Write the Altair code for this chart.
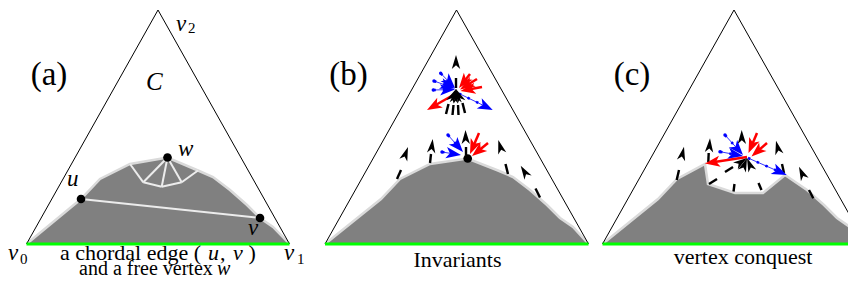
import math
import altair as alt
import pandas as pd

# ---------------- data (pixel coordinates) ----------------
panels = ["a", "b", "c"]
tri_left_x = [26.5, 325.0, 602.5]
tri_apex_x = [158.0, 456.5, 734.0]
tri_right_x = [289.5, 588.5, 866.0]
tri_base_y = 244.0
tri_apex_y = 10.0

surf_a_x = [26.5, 81, 100, 130, 167.5, 198, 213, 230, 247, 260, 273, 289.5]
surf_a_y = [244, 199, 179, 164, 157.5, 170.5, 177, 190, 205, 218, 227, 244]
surf_b_x = [325, 381, 400, 430, 467.5, 498, 513, 530, 547, 560, 573, 588.5]
surf_b_y = [244, 199, 179, 164, 158.5, 170.5, 177, 190, 205, 218, 227, 244]
surf_c_x = [602.5, 658, 677, 705, 708, 735, 763, 785, 807, 824, 837, 850, 866]
surf_c_y = [244, 199, 179, 164, 184, 193, 193, 175, 190, 205, 218, 227, 244]

# white chords / fan inside panel (a)
chord_x1 = [81, 167.5, 167.5, 167.5, 130, 143.3, 161.7, 181.7]
chord_y1 = [199, 157.5, 157.5, 157.5, 164, 182.3, 186.7, 182.3]
chord_x2 = [260, 143.3, 161.7, 181.7, 143.3, 161.7, 181.7, 198]
chord_y2 = [218, 182.3, 186.7, 182.3, 182.3, 186.7, 182.3, 170.5]

dot_x = [81, 260, 167.5, 467.7]
dot_y = [199, 218, 157.5, 158.5]

# black arrows: heads (tip, and a point behind giving the direction)
black_tip_x = [408, 432.7, 465.5, 498.3, 520.7, 456, 456, 456, 456, 456,
               684, 710, 741.7, 776, 799, 747, 747, 747]
black_tip_y = [147, 139, 130, 140, 165.7, 55, 89, 89, 89, 89,
               146.7, 138.3, 130, 140.7, 166.7, 158, 158, 158]
black_from_x = [397, 430, 466, 508, 540, 456, 445, 452, 459, 466,
                676.7, 708.3, 742, 784, 813.3, 709, 734, 760]
black_from_y = [178, 163, 155, 173, 197, 88, 113, 114, 114, 112,
                180, 162, 155, 173, 198.3, 184, 192, 190]
# black dash segments
dash_x1 = [397, 430, 466, 508, 540, 456, 446, 452.5, 458.5, 465,
           676.7, 708.3, 784, 813.3, 709, 725, 733.5, 761.5]
dash_y1 = [179, 163, 155, 174, 197.5, 88, 114, 115, 115, 113,
           180, 162, 173, 198.3, 184, 172, 191.5, 190]
dash_x2 = [401, 431, 466, 505.5, 535.5, 456, 448.5, 453.5, 458, 462.5,
           679, 708.7, 782, 809, 717, 733, 734.5, 758.5]
dash_y2 = [170, 154, 147, 164, 188.5, 78, 104, 105, 105, 103,
           170, 153, 164, 190, 179, 167, 184, 183]

# red arrows (start -> tip)
red_x1 = [470, 477, 482, 455, 479, 488, 757, 767, 747]
red_y1 = [74, 79, 87, 94, 133, 143, 133, 143, 157]
red_x2 = [459, 460, 460.5, 427, 470, 472, 748.5, 751.5, 705]
red_y2 = [88, 89.5, 91, 110, 154, 156, 153, 156.5, 163.5]

# blue arrows (start -> tip)
blue_x1 = [440.7, 434, 433.3, 459, 448, 442, 725, 720, 748]
blue_y1 = [73.3, 81, 90, 93.5, 135, 152, 135, 151.7, 158]
blue_x2 = [455, 455, 455, 492.7, 463, 461, 743, 743, 786.7]
blue_y2 = [88, 88.5, 89.5, 110, 152, 155, 155, 156, 175]
blue_start_dot = [True, True, True, False, True, True, True, True, False]

# texts
center_text = ["(a)", "(b)", "(c)", "Invariants", "vertex conquest"]
center_x = [49, 348.5, 632, 457.5, 743]
center_y = [85, 85, 85, 267, 264]
center_size = [33, 33, 33, 22, 22]

left_text = ["a chordal edge (", ",", ")", "and a free vertex", "2", "0", "1"]
left_x = [60, 220, 248.5, 79, 188, 20, 297]
left_y = [260, 260, 260, 275, 33, 264, 264]
left_size = [22, 22, 22, 20, 15, 15, 15]

ital_text = ["C", "v", "u", "w", "v", "v", "v", "u", "v", "w"]
ital_x = [146, 176, 67, 178, 248, 8, 284, 208, 233, 217]
ital_y = [90, 31, 186, 156, 235, 260, 260, 260, 260, 275]
ital_size = [25, 23, 23, 23, 23, 23, 23, 22, 22, 20]

# ---------------- tables ----------------
xs = alt.Scale(domain=[8, 848], nice=False, zero=False)
ys = alt.Scale(domain=[278, 8], nice=False, zero=False)
X = lambda f: alt.X(f, type="quantitative", scale=xs, axis=None)
Y = lambda f: alt.Y(f, type="quantitative", scale=ys, axis=None)

surf_rows = []
for p, sx, sy in zip(panels, [surf_a_x, surf_b_x, surf_c_x], [surf_a_y, surf_b_y, surf_c_y]):
    for i, (a, b) in enumerate(zip(sx, sy)):
        surf_rows.append({"panel": p, "i": i, "x": a, "y": b, "base": tri_base_y})
surf = pd.DataFrame(surf_rows)

tri_rows = []
for p, l, a, r in zip(panels, tri_left_x, tri_apex_x, tri_right_x):
    tri_rows += [{"panel": p, "i": 0, "x": l, "y": tri_base_y},
                 {"panel": p, "i": 1, "x": a, "y": tri_apex_y},
                 {"panel": p, "i": 2, "x": r, "y": tri_base_y}]
tri = pd.DataFrame(tri_rows)
base = pd.DataFrame({"x": tri_left_x, "x2": tri_right_x, "y": [tri_base_y] * 3})

chords = pd.DataFrame({"x": chord_x1, "y": chord_y1, "x2": chord_x2, "y2": chord_y2})
dots = pd.DataFrame({"x": dot_x, "y": dot_y})
dashes = pd.DataFrame({"x": dash_x1, "y": dash_y1, "x2": dash_x2, "y2": dash_y2})


def heads(tx, ty, fx, fy, L):
    rows = []
    for a, b, c, d in zip(tx, ty, fx, fy):
        dx, dy = a - c, b - d
        n = math.hypot(dx, dy)
        ux, uy = dx / n, dy / n
        ang = math.degrees(math.atan2(ux, -uy)) % 360
        rows.append({"x": a - ux * L / 2, "y": b - uy * L / 2, "ang": ang})
    return pd.DataFrame(rows)


def shafts(x1, y1, x2, y2, back):
    rows = []
    for a, b, c, d in zip(x1, y1, x2, y2):
        dx, dy = c - a, d - b
        n = math.hypot(dx, dy)
        rows.append({"x": a, "y": b, "x2": c - dx / n * back, "y2": d - dy / n * back})
    return pd.DataFrame(rows)


LB, LR, LU = 14, 15, 15
black_heads = heads(black_tip_x, black_tip_y, black_from_x, black_from_y, LB)
red_heads = heads(red_x2, red_y2, red_x1, red_y1, LR)
blue_heads = heads(blue_x2, blue_y2, blue_x1, blue_y1, LU)
red_sh = shafts(red_x1, red_y1, red_x2, red_y2, 8)
blue_sh = shafts(blue_x1, blue_y1, blue_x2, blue_y2, 8)
blue_dots = pd.DataFrame({"x": [v for v, k in zip(blue_x1, blue_start_dot) if k],
                          "y": [v for v, k in zip(blue_y1, blue_start_dot) if k]})

ctext = pd.DataFrame({"t": center_text, "x": center_x, "y": center_y, "s": center_size})
ltext = pd.DataFrame({"t": left_text, "x": left_x, "y": left_y, "s": left_size})
itext = pd.DataFrame({"t": ital_text, "x": ital_x, "y": ital_y, "s": ital_size})

HEAD = "M0,-1 L0.6,1 L0,0.45 L-0.6,1 Z"
HEAD_W = "M0,-1 L0.75,1 L0,0.5 L-0.75,1 Z"
FONT = "Liberation Serif"

# ---------------- layers ----------------
area = alt.Chart(surf).mark_area(color="#808080", opacity=1, interpolate="linear").encode(
    x=X("x"), y=Y("y"), y2="base:Q", detail="panel:N")
outline = alt.Chart(surf).mark_line(color="#dadada", strokeWidth=2.5).encode(
    x=X("x"), y=Y("y"), detail="panel:N", order="i:Q")
tri_l = alt.Chart(tri).mark_line(color="black", strokeWidth=1).encode(
    x=X("x"), y=Y("y"), detail="panel:N", order="i:Q")
green = alt.Chart(base).mark_rule(color="#00ff00", strokeWidth=3).encode(
    x=X("x"), x2="x2:Q", y=Y("y"))
chord_l = alt.Chart(chords).mark_rule(color="#ececec", strokeWidth=2).encode(
    x=X("x"), y=Y("y"), x2="x2:Q", y2="y2:Q")
dash_l = alt.Chart(dashes).mark_rule(color="black", strokeWidth=2.4, strokeCap="butt").encode(
    x=X("x"), y=Y("y"), x2="x2:Q", y2="y2:Q")
red_l = alt.Chart(red_sh).mark_rule(color="#ff0000", strokeWidth=2.5).encode(
    x=X("x"), y=Y("y"), x2="x2:Q", y2="y2:Q")
blue_thin = alt.Chart(blue_sh).mark_rule(color="#0000ff", strokeWidth=0.8).encode(
    x=X("x"), y=Y("y"), x2="x2:Q", y2="y2:Q")
blue_dot_l = alt.Chart(blue_sh).mark_rule(color="#0000ff", strokeWidth=2.5, strokeDash=[2.5, 7]).encode(
    x=X("x"), y=Y("y"), x2="x2:Q", y2="y2:Q")
blue_start = alt.Chart(blue_dots).mark_circle(color="#0000ff", size=12, opacity=1).encode(
    x=X("x"), y=Y("y"))

def head_layer(df, color, shape, L):
    return alt.Chart(df).mark_point(shape=shape, filled=True, color=color, opacity=1,
                                    size=L * L, strokeWidth=0).encode(
        x=X("x"), y=Y("y"), angle=alt.Angle("ang:Q", scale=None))

bh = head_layer(black_heads, "black", HEAD, LB)
rh = head_layer(red_heads, "#ff0000", HEAD_W, LR)
uh = head_layer(blue_heads, "#0000ff", HEAD_W, LU)

dot_l = alt.Chart(dots).mark_circle(color="black", size=75, opacity=1).encode(x=X("x"), y=Y("y"))

ct = alt.Chart(ctext).mark_text(font=FONT, align="center", baseline="alphabetic", color="black").encode(
    x=X("x"), y=Y("y"), text="t:N", size=alt.Size("s:Q", scale=None))
lt = alt.Chart(ltext).mark_text(font=FONT, align="left", baseline="alphabetic", color="black").encode(
    x=X("x"), y=Y("y"), text="t:N", size=alt.Size("s:Q", scale=None))
it = alt.Chart(itext).mark_text(font=FONT, fontStyle="italic", align="left", baseline="alphabetic",
                                color="black").encode(
    x=X("x"), y=Y("y"), text="t:N", size=alt.Size("s:Q", scale=None))

chart = alt.layer(area, outline, tri_l, green, chord_l, dash_l, red_l, blue_thin, blue_dot_l,
                  blue_start, bh, uh, rh, dot_l, ct, lt, it).properties(
    width=840, height=270, autosize="none", padding=0, background="white"
).configure_view(stroke=None)

chart.save("out.html", embed_options={"renderer": "svg", "actions": False})
